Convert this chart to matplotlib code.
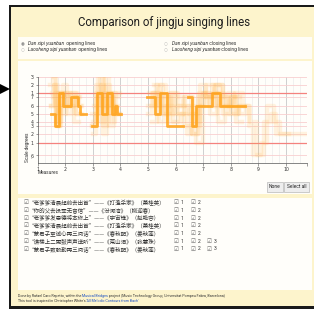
import numpy as np
import matplotlib
matplotlib.use("Agg")
import matplotlib.pyplot as plt
from matplotlib.patches import Rectangle, Polygon
from matplotlib.text import Annotation

# ---------------- data ----------------
nan = np.nan
# y axis: semitones relative to scale degree 1
ytick_values = [-3, 0, 2, 4, 5, 7, 9, 11, 12, 14, 16]
ytick_labels = ["6\u0323", "1", "2", "3", "4", "5", "6", "7", "1\u0307", "2\u0307", "3\u0307"]
red_lines = [0, 12]
xtick_values = [1, 2, 3, 4, 5, 6, 7, 8, 9, 10]

# highlighted line (measures, semitones), NaN separates phrases
line1_x = [1.49, 1.64, 1.76, 1.93, 2.22, 2.45, 2.55, 2.63, 2.75, nan,
           2.97, 3.15, 3.33, 3.50, 3.68, 3.80, 3.88, 4.02, nan,
           4.96, 5.25, 5.43, 5.70, 6.25, nan,
           6.46, 6.60, 6.74, 7.00, 7.30, 7.60, 8.03, 8.51]
line1_y = [7, 4, 12, 9, 11, 9, 7, 7, 7, nan,
           4, 12, 7, 12, 7, 9, 7, 7, nan,
           11, 7, 12, 4, 4, nan,
           11, 4, 9, 9, 12, 9, 9, 9]

line2_x = [1.45, 1.55, 1.62, 1.70, 1.80, 1.95, 2.10, 2.30, 2.50, 2.62, nan,
           2.95, 3.10, 3.25, 3.40, 3.55, 3.70, 3.85, 4.00, nan,
           5.20, 5.35, 5.50, 5.70, 5.90, 6.20, 6.45, 6.70, 6.90, 7.10, 7.30, 7.60, 7.90, 8.10, 8.30, 8.50]
line2_y = [14, 16, 9, 4, 11, 12, 9, 11, 9, 9, nan,
           4, 12, 16, 7, 12, 9, 7, 7, nan,
           14, 12, 7, 9, 5, 7, 9, 4, 14, 11, 14, 9, 12, 7, 9, 9]

line3_x = [1.52, 1.60, 1.72, 1.85, 2.00, 2.20, 2.40, 2.60, nan,
           3.00, 3.12, 3.30, 3.45, 3.60, 3.75, 3.95, nan,
           5.10, 5.30, 5.55, 5.80, 6.10, 6.40, 6.55, 6.75, 7.00, 7.20, 7.45, 7.70, 8.00, 8.20, 8.40]
line3_y = [12, 14, 5, 9, 12, 11, 7, 7, nan,
           2, 14, 5, 16, 4, 11, 11, nan,
           9, 14, 11, 5, 7, 2, 7, 0, 12, 9, 14, 7, 11, 5, 5]

line4_x = [1.58, 1.68, 1.80, 1.90, 2.05, 2.25, 2.45, 2.58, nan,
           3.05, 3.20, 3.35, 3.50, 3.65, 3.80, 3.92, nan,
           5.00, 5.15, 5.40, 5.60, 5.85, 6.05, 6.30, 6.60, 6.85, 7.05, 7.35, 7.55, 7.80, 8.05,
           8.30, 8.55, 8.70, 8.95, 9.10, 9.30, 9.55, 9.80, 10.05, 10.50, 10.75]
line4_y = [16, 4, 9, 14, 7, 12, 9, 9, nan,
           9, 16, 2, 12, 5, 9, 9, nan,
           7, 12, 9, 11, 7, 9, 4, 2, 12, 11, 12, 5, 9, 11,
           7, 9, 5, -3, 0, 9, 5, 2, 2, 2, 2]

line5_x = [1.48, 1.58, 1.66, 1.78, 1.92, 2.15, 2.35, 2.55, nan,
           2.98, 3.18, 3.28, 3.42, 3.58, 3.72, 3.90, nan,
           5.05, 5.25, 5.45, 5.65, 5.95, 6.25, 6.50, 6.80, 7.10, 7.40, 7.65, 7.85, 8.15, 8.45,
           8.65, 8.80, 9.00, 9.20, 9.45, 9.65, 9.90, 10.10]
line5_y = [9, 14, 7, 12, 11, 9, 11, 11, nan,
           7, 9, 14, 9, 11, 7, 7, nan,
           12, 9, 14, 7, 11, 9, 7, 11, 14, 9, 11, 9, 12, 9,
           4, -3, -3, 5, 7, 2, 2, 2]

line6_x = [1.55, 1.65, 1.75, 1.88, 2.02, 2.18, 2.38, 2.52, nan,
           3.02, 3.14, 3.32, 3.48, 3.62, 3.78, 3.98, nan,
           5.15, 5.32, 5.52, 5.75, 6.00, 6.35, 6.62, 6.88, 7.15, 7.42, 7.72, 7.95, 8.25, 8.45]
line6_y = [11, 5, 12, 7, 9, 12, 7, 7, nan,
           5, 11, 9, 14, 7, 12, 12, nan,
           5, 11, 7, 12, 9, 11, 5, 9, 11, 14, 11, 7, 9, 9]

line7_x = [1.50, 1.62, 1.74, 1.86, 1.98, 2.12, 2.32, 2.48, nan,
           2.96, 3.08, 3.22, 3.38, 3.52, 3.68, 3.84, 4.00, nan,
           4.98, 5.18, 5.38, 5.62, 5.82, 6.08, 6.32, 6.58, 6.82, 7.02, 7.25, 7.50, 7.75, 8.00, 8.35]
line7_y = [9, 12, 4, 12, 9, 9, 5, 5, nan,
           4, 7, 12, 4, 9, 12, 7, 7, nan,
           9, 12, 5, 9, 12, 7, 11, 2, 9, 12, 7, 12, 9, 11, 11]

faint_lines = [(line2_x, line2_y), (line3_x, line3_y), (line4_x, line4_y),
               (line5_x, line5_y), (line6_x, line6_y), (line7_x, line7_y)]

title = "Comparison of jingju singing lines"
radio_italic = ["Dan xipi yuanban", "Laosheng xipi yuanban", "Dan xipi yuanban", "Laosheng xipi yuanban"]
radio_rest = [" opening lines", " opening lines", " closing lines", " closing lines"]
list_items = ["“老爹爹清晨起前去出首”——《打渔杀家》（萧桂英）",
              "“你的父去投军无音信”——《汾河湾》（柳迎春）",
              "“老爹爹发恩德将本修上”——《宇宙锋》（赵艳容）",
              "“老爹爹清晨起前去出首”——《打渔杀家》（萧桂英）",
              "“蒙君子至诚心再三问话”——《春秋配》（姜秋莲）",
              "“谯楼上二更鼓声声送听”——《荒山泪》（张慧珠）",
              "“蒙君子致殷勤再三问话”——《春秋配》（姜秋莲）"]
list_counts = [2, 2, 2, 2, 2, 3, 3]
footer1 = ("Done by Rafael Caro Repetto, within the ", "Musical Bridges",
           " project (Music Technology Group, Universitat Pompeu Fabra, Barcelona)")
footer2 = ("This tool is inspired in Christopher White's ", "'All Melodic Contours from Bach'", "")

# ---------------- figure ----------------
W, H = 314, 311
fig = plt.figure(figsize=(W / 100, H / 100), dpi=100)
fig.patch.set_facecolor("white")

def box(x0, y0, x1, y1, **kw):
    fig.patches.append(Rectangle((x0 / W, 1 - y1 / H), (x1 - x0) / W, (y1 - y0) / H,
                                 transform=fig.transFigure, **kw))

def ftext(x, y, s, **kw):
    return fig.text(x / W, 1 - y / H, s, **kw)

def after(artist, s, **kw):
    a = Annotation(s, xy=(1, 0.5), xycoords=artist, va="center", ha="left", **kw)
    fig.add_artist(a)
    return a

# frame and background
box(9, 5, W + 2, 309, facecolor="#1a1a1a", edgecolor="none", zorder=0)
box(11, 7, W + 2, 306, facecolor="#fdf4cc", edgecolor="none", zorder=0.1)
fig.patches.append(Polygon([(0 / W, 1 - 84 / H), (10 / W, 1 - 89 / H), (0 / W, 1 - 94 / H)],
                           closed=True, transform=fig.transFigure, facecolor="black", zorder=1))
# panels
box(17.5, 37, 312, 58.5, facecolor="#fffdf6", edgecolor="none", zorder=0.2)
box(17.5, 61.5, 312, 194, facecolor="#fffefa", edgecolor="none", zorder=0.2)
box(17.5, 198, 312, 290, facecolor="#fffefa", edgecolor="none", zorder=0.2)

# title
ftext(164, 22.5, title, ha="center", va="center", fontsize=8.3, family="Roboto",
      color="#1e1e1e")

# radio items
radio_pos = [(23, 44), (23, 50), (166, 44), (166, 50)]
for i, (it, rest, (rx, ry)) in enumerate(zip(radio_italic, radio_rest, radio_pos)):
    ftext(rx, ry, "\u25c9" if i == 0 else "\u25cb", ha="center", va="center", fontsize=3.2,
          color="#777777" if i == 0 else "#bbbbbb", family="DejaVu Sans")
    t = ftext(rx + 5.5, ry, it, ha="left", va="center", fontsize=3.5, style="italic",
              family="Roboto", color="#333333")
    after(t, rest, fontsize=3.5, family="Roboto", color="#333333")

# ---------------- chart ----------------
x0p, x1p, y0p, y1p = 37.7, 306.7, 76.7, 163.3
ax = fig.add_axes([x0p / W, 1 - y1p / H, (x1p - x0p) / W, (y1p - y0p) / H])
ax.set_zorder(5)
ax.set_facecolor("none")
ax.set_xlim(1, 10.75)
ax.set_ylim(-5, 16)

for xv in np.arange(1.25, 10.75, 0.25):
    if abs(xv - round(xv)) > 1e-6:
        ax.axvline(xv, color="#ececec", lw=0.5, zorder=0)
for xv in xtick_values[1:]:
    ax.axvline(xv, color="#c8c8c8", lw=0.6, zorder=0.5)
for yv in ytick_values:
    if yv in red_lines:
        ax.axhline(yv, color="#f4827e", lw=0.9, zorder=1)
    else:
        ax.axhline(yv, color="#f9cfcf", lw=0.6, zorder=0.8)

for lx, ly in faint_lines:
    ax.step(lx, ly, where="post", color="#ffb240", alpha=0.15, lw=3.2, zorder=2)
ax.step(line1_x, line1_y, where="post", color="#ffa41c", alpha=0.88, lw=2.0, zorder=3)

for s in ["top", "right"]:
    ax.spines[s].set_visible(False)
for s in ["left", "bottom"]:
    ax.spines[s].set_color("#555555")
    ax.spines[s].set_linewidth(0.5)
ax.set_xticks(xtick_values + [10.75])
ax.set_xticklabels([str(v) for v in xtick_values] + [""])
ax.set_yticks(ytick_values)
ax.set_yticklabels(ytick_labels)
ax.tick_params(axis="both", labelsize=3.3, length=1.8, width=0.4, color="#555555",
               labelcolor="#333333", pad=1.2)
for lab in ax.get_xticklabels() + ax.get_yticklabels():
    lab.set_family("DejaVu Sans")

ftext(38, 173, "Measures", ha="left", va="center", fontsize=3.4, family="Roboto", color="#333333")
ftext(27.5, 147, "Scale degrees", ha="center", va="center", rotation=90, fontsize=3.4,
      family="Roboto", color="#333333")

# buttons
for (bx0, bx1, lab) in [(266.5, 283, "None"), (284, 309, "Select all")]:
    box(bx0, 182, bx1, 191.5, facecolor="#eeeeee", edgecolor="#aaaaaa", lw=0.4, zorder=1)
    ftext((bx0 + bx1) / 2, 186.8, lab, ha="center", va="center", fontsize=3.5,
          family="Roboto", color="#222222")

# ---------------- list ----------------
row_y = [202.7, 210.3, 218, 225.7, 233.3, 241.3, 249]
for yy, item, n in zip(row_y, list_items, list_counts):
    ftext(25.5, yy, "\u2611", ha="center", va="center", fontsize=4, color="#666666",
          family="DejaVu Sans")
    ftext(29, yy, item, ha="left", va="center", fontsize=4.0,
          family=["Noto Sans CJK SC", "DejaVu Sans"], color="#333333")
    for k, cx in zip(range(n), [176, 192.5, 209]):
        ftext(cx, yy, "\u2611", ha="center", va="center", fontsize=4, color="#666666",
              family="DejaVu Sans")
        ftext(cx + 5, yy, str(k + 1), ha="left", va="center", fontsize=3.6,
              family="Roboto", color="#333333")

# ---------------- footer ----------------
for fy, parts in [(296.5, footer1), (301, footer2)]:
    t1 = ftext(18, fy, parts[0], ha="left", va="center", fontsize=2.6, family="Roboto",
               color="#333333")
    a2 = after(t1, parts[1], fontsize=2.6, family="Roboto", color="#1a4fc4")
    if parts[2]:
        after(a2, parts[2], fontsize=2.6, family="Roboto", color="#333333")

fig.savefig("out.png", dpi=100, facecolor="white")
